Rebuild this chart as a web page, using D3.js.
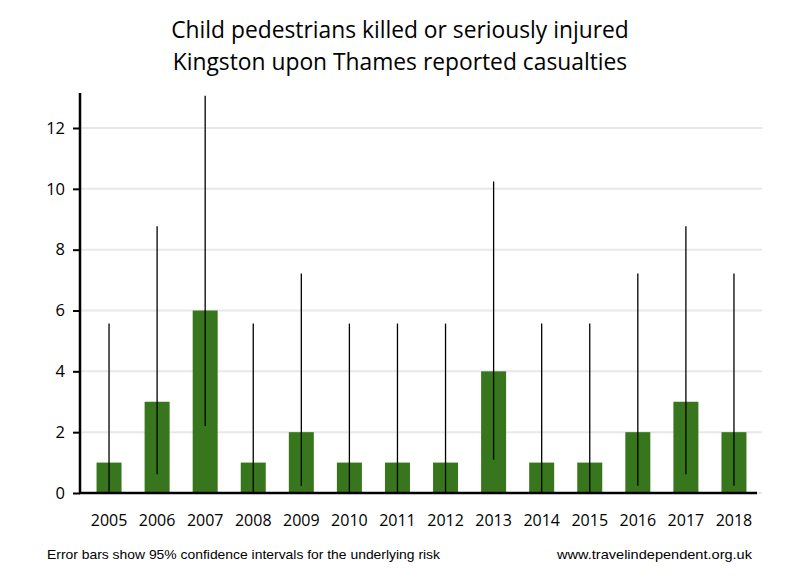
<!DOCTYPE html>
<html><head><meta charset="utf-8">
<script src="https://cdn.jsdelivr.net/npm/d3@7"></script>
<style>body{margin:0;background:#fff}</style>
</head><body>
<svg id="c" width="800" height="580"></svg>
<script>
const years = ["2005","2006","2007","2008","2009","2010","2011","2012","2013","2014","2015","2016","2017","2018"];
const casualties = [1,3,6,1,2,1,1,1,4,1,1,2,3,2];
const ciLow = [0.03,0.62,2.20,0.03,0.24,0.03,0.03,0.03,1.09,0.03,0.03,0.24,0.62,0.24];
const ciHigh = [5.57,8.77,13.06,5.57,7.22,5.57,5.57,5.57,10.24,5.57,5.57,7.22,8.77,7.22];
const yTicks = [0,2,4,6,8,10,12];
const titleLines = ["Child pedestrians killed or seriously injured","Kingston upon Thames reported casualties"];
const footLeft = "Error bars show 95% confidence intervals for the underlying risk";
const footRight = "www.travelindependent.org.uk";

const svg = d3.select("#c");
const font = "'Open Sans', 'DejaVu Sans', sans-serif";
const x = d3.scaleBand().domain(years).range([85,758]).paddingInner(0.48).paddingOuter(0.24);
const y = d3.scaleLinear().domain([0,12]).range([493,128]);
const axisTop = y(13.15);

// gridlines
svg.append("g").selectAll("line").data(yTicks).join("line")
  .attr("x1",80).attr("x2",762).attr("y1",d=>y(d)).attr("y2",d=>y(d))
  .attr("stroke","#e8e8e8").attr("stroke-width",2);

// bars
svg.append("g").selectAll("rect").data(casualties).join("rect")
  .attr("x",(d,i)=>x(years[i])).attr("width",x.bandwidth())
  .attr("y",d=>y(d)).attr("height",d=>y(0)-y(d)).attr("fill","#38761d");

// error bars
svg.append("g").selectAll("line").data(years).join("line")
  .attr("x1",d=>x(d)+x.bandwidth()/2).attr("x2",d=>x(d)+x.bandwidth()/2)
  .attr("y1",(d,i)=>y(ciLow[i])).attr("y2",(d,i)=>y(ciHigh[i]))
  .attr("stroke","#000").attr("stroke-width",1.3);

// y axis
const ya = svg.append("g").attr("transform","translate(80,0)")
  .call(d3.axisLeft(y).tickValues(yTicks).tickSize(7).tickPadding(8).tickFormat(d3.format("d")));
ya.select(".domain").remove();
ya.selectAll(".tick line").attr("stroke","#000").attr("stroke-width",2);
ya.selectAll("text").attr("font-family",font).attr("font-size",16.5).attr("fill","#000");
svg.append("line").attr("x1",80).attr("x2",80).attr("y1",axisTop).attr("y2",494).attr("stroke","#000").attr("stroke-width",2.5);

// x axis
const xa = svg.append("g").attr("transform","translate(0,493)")
  .call(d3.axisBottom(x).tickSize(0).tickPadding(22));
xa.select(".domain").remove();
xa.selectAll("text").attr("font-family",font).attr("font-size",16).attr("fill","#000");
svg.append("line").attr("x1",79).attr("x2",757).attr("y1",493).attr("y2",493).attr("stroke","#000").attr("stroke-width",2.5);

// title
svg.append("g").selectAll("text").data(titleLines).join("text")
  .attr("x",400).attr("y",(d,i)=>38+i*32).attr("text-anchor","middle")
  .attr("font-family",font).attr("font-size",22.8).attr("fill","#000").text(d=>d);

// footer
svg.append("text").attr("x",47).attr("y",559).attr("font-family","'Liberation Sans', Arial, sans-serif")
  .attr("font-size",13).attr("textLength",393).attr("lengthAdjust","spacingAndGlyphs").text(footLeft);
svg.append("text").attr("x",557).attr("y",559).attr("font-family","'Liberation Sans', Arial, sans-serif")
  .attr("font-size",13).attr("textLength",195).attr("lengthAdjust","spacingAndGlyphs").text(footRight);
</script>
</body></html>
